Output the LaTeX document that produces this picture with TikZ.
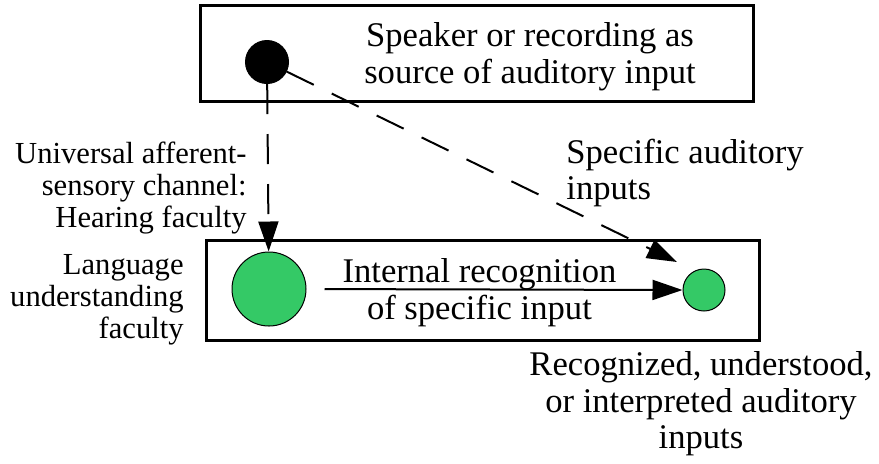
\documentclass[tikz,border=0pt]{standalone}
\usepackage{fontspec}
\setmainfont{Liberation Serif}
\usepackage{xcolor}
\usepackage{tikz}
\usetikzlibrary{arrows.meta}

\definecolor{leafgreen}{RGB}{52,201,102}

\begin{document}
\begin{tikzpicture}[x=0.5pt,y=-0.5pt,
                    frame/.style={draw,line width=1.5pt},
                    dot/.style n args={2}{circle,draw,line width=0.5pt,
                    fill=#1,minimum size=#2pt,inner sep=0pt},
                    lbl/.style={font=\fontsize{17.3}{18.3}\selectfont,inner sep=0pt},
                    sidelbl/.style={font=\fontsize{15.3}{16}\selectfont,inner sep=0pt,
                    align=right,anchor=east},
                    flow/.style={line width=1pt,-{Triangle[length=15pt,width=10pt]}},
                    dashflow/.style={flow,dash pattern=on 15pt off 10pt}]
    \useasboundingbox (0,0) rectangle (879,463);
    % the two boxes
    \draw[frame] (200,5) rectangle (753,101);
    \draw[frame] (206,240) rectangle (759,340);
    % circles
    \node[dot={black}{21.5}](src) at (267,62) {};
    \node[dot={leafgreen}{37}](lang) at (269,289) {};
    \node[dot={leafgreen}{21}](rec) at (704,290) {};
    \coordinate (tipA) at (677,262);
    % texts
    \node[lbl,align=center](srctxt) at (530,57) {Speaker or recording as\\source of auditory input};
    \node[sidelbl](chantxt) at (247,188) {Universal afferent-\\sensory channel:\\Hearing faculty};
    \node[lbl,align=left,anchor=west](spectxt) at (566,173) {Specific auditory\\inputs};
    \node[sidelbl](langtxt) at (184,300) {Language\\understanding\\faculty};
    \node[lbl,align=center](rectxt) at (701,404) {Recognized, understood,\\or interpreted auditory\\inputs};
    % connectors
    \draw[dashflow] (src) -- (lang);
    \draw[dashflow] (src) -- (tipA);
    \draw[flow,shorten <=9pt] (lang.east) -- (rec.west)
        node[lbl,align=center,pos=0.46,yshift=-1.5pt] {Internal recognition\\of specific input};
\end{tikzpicture}
\end{document}
